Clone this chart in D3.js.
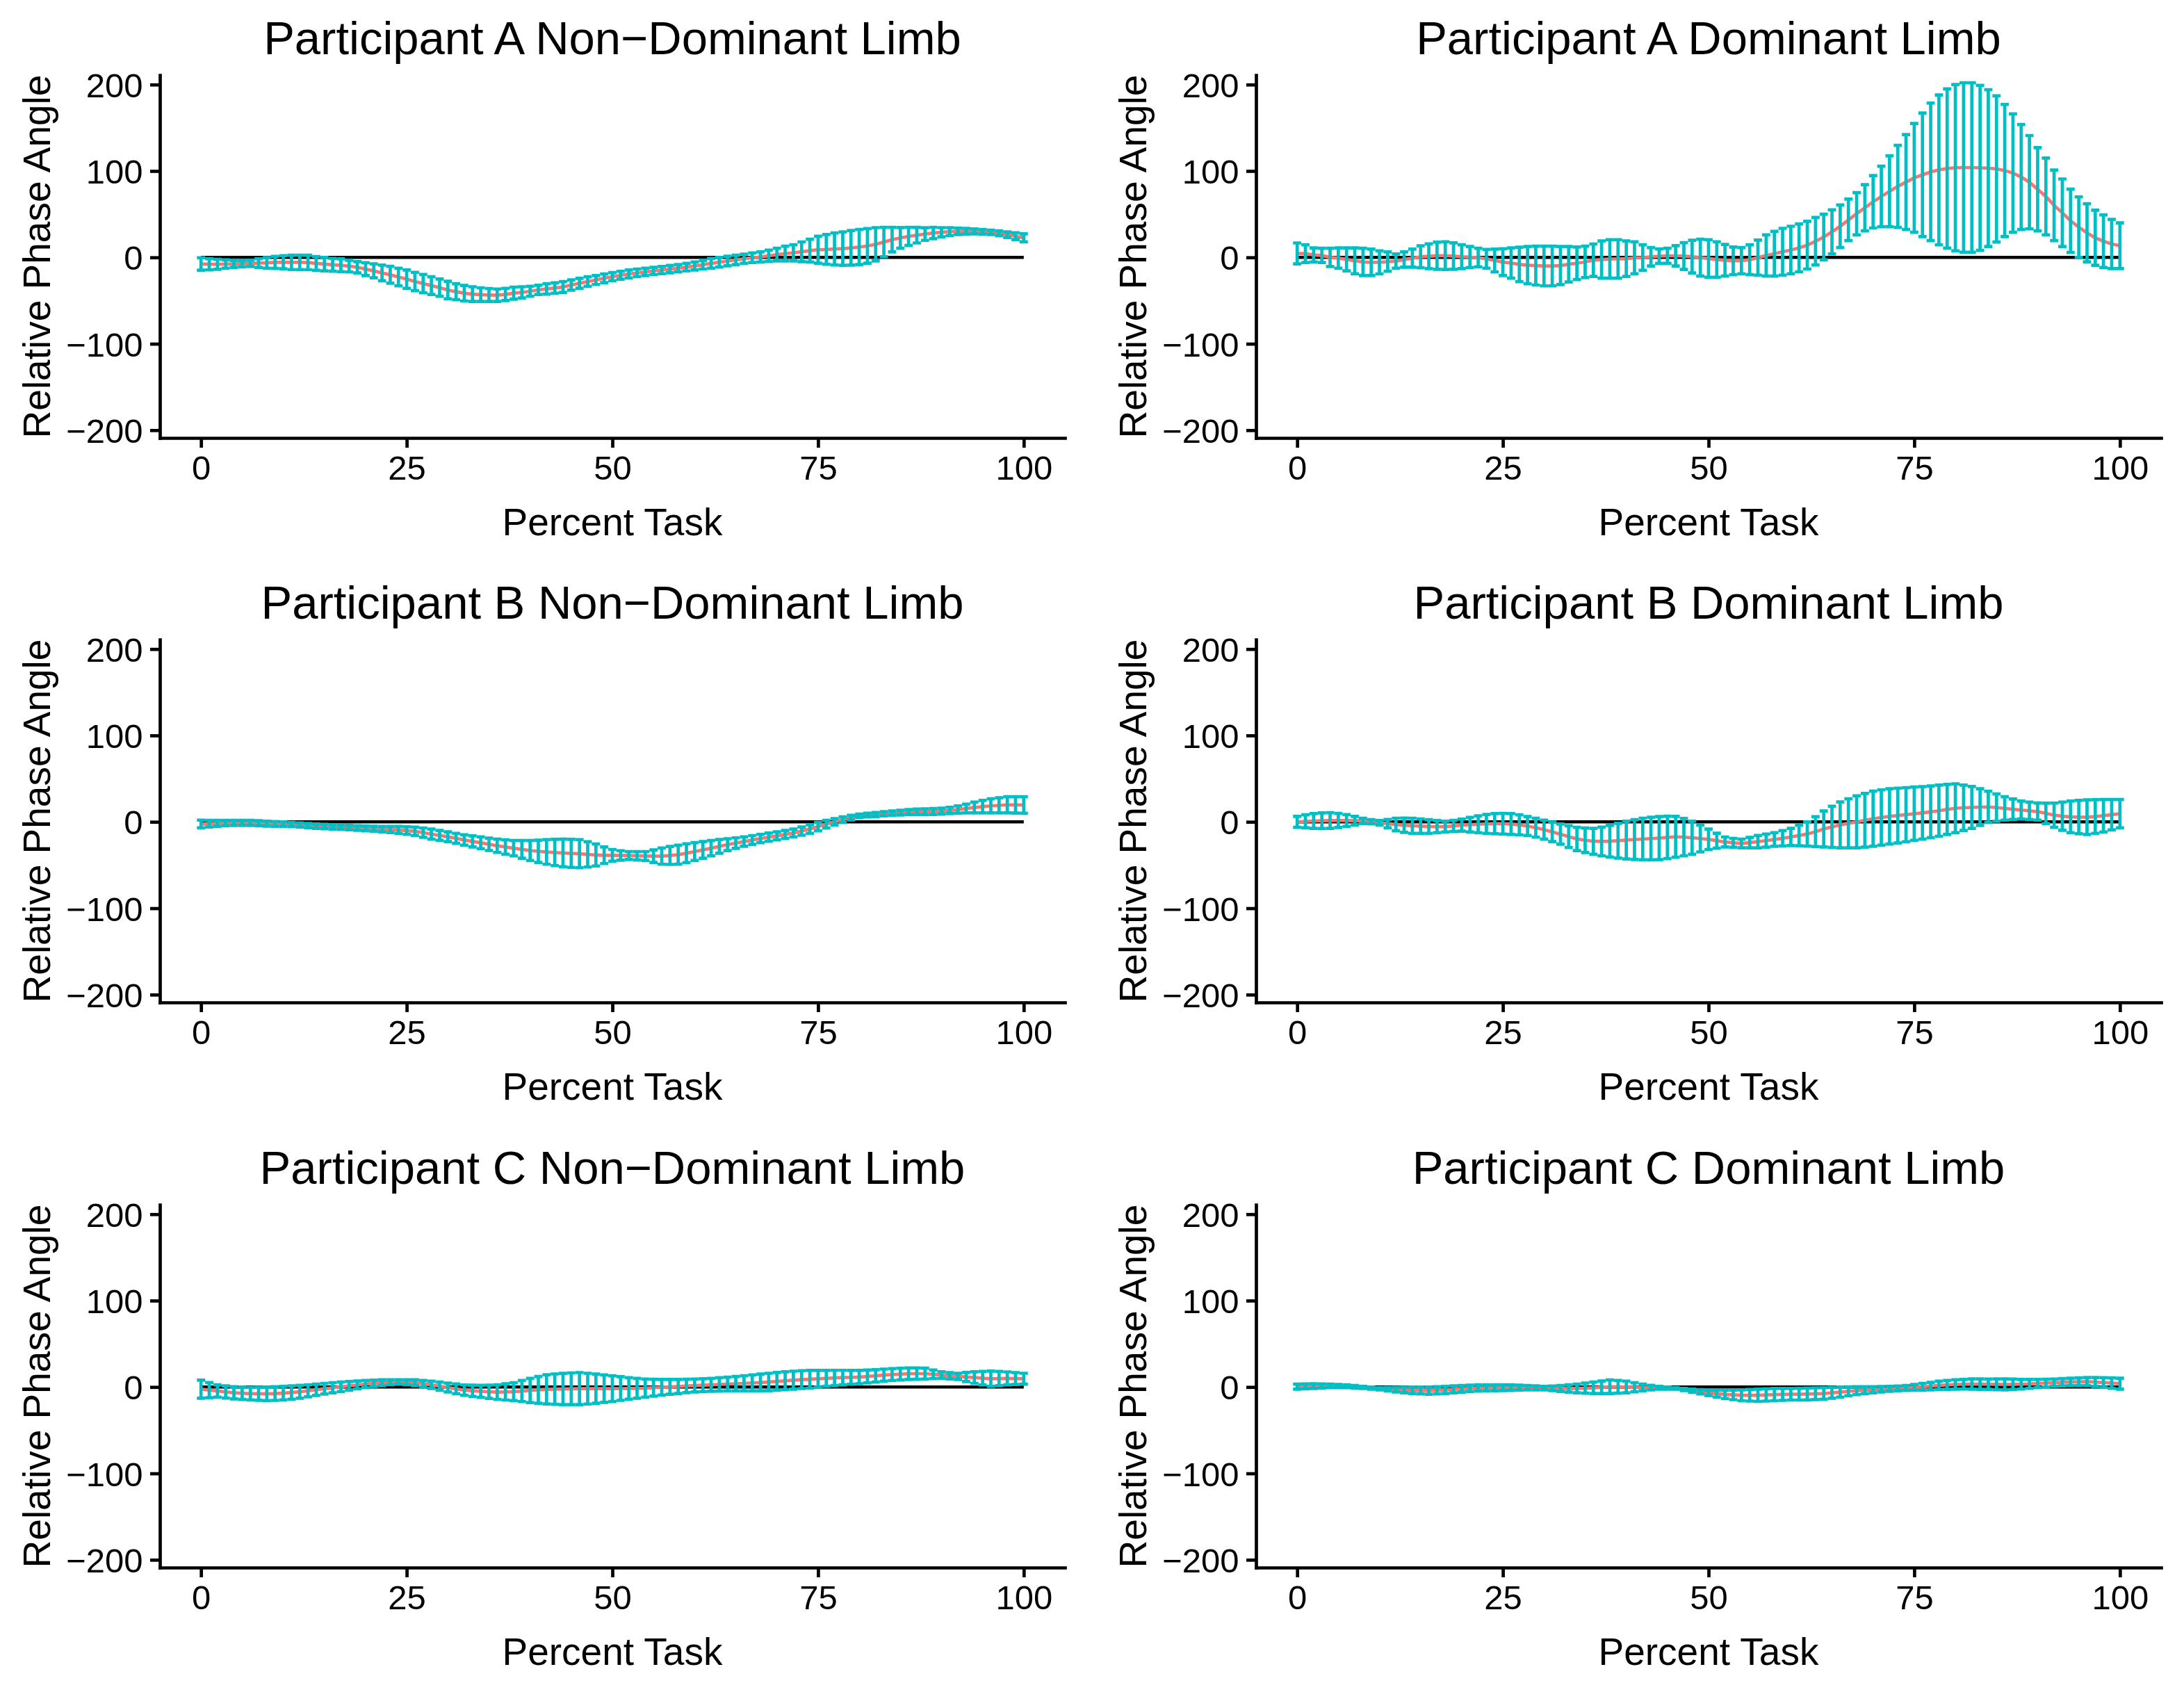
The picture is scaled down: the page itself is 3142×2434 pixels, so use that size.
<!DOCTYPE html>
<html>
<head>
<meta charset="utf-8">
<script src="https://cdn.jsdelivr.net/npm/d3@7"></script>
<style>
  body { margin: 0; background: #fff; }
  svg { display: block; font-family: "Liberation Sans", Arial, sans-serif; }
</style>
</head>
<body>
<div id="chart"></div>
<script>
// percent of task, one value per 1 %
const percentTask = d3.range(0, 101);

const titles = [
  'Participant A Non\u2212Dominant Limb', 'Participant A Dominant Limb',
  'Participant B Non\u2212Dominant Limb', 'Participant B Dominant Limb',
  'Participant C Non\u2212Dominant Limb', 'Participant C Dominant Limb'
];

const xTicks = [0, 25, 50, 75, 100];
const yTicks = [-200, -100, 0, 100, 200];

// mean relative phase angle and its SD (error bar half-length)
const aNdMean = [
  -7.6,-8.0,-8.0,-7.8,-7.6,-7.4,-7.0,-6.6,-6.4,-5.8,
  -5.6,-5.8,-5.8,-5.9,-7.0,-7.8,-8.6,-9.1,-10.1,-11.5,
  -13.6,-15.6,-18.0,-20.1,-22.7,-25.2,-27.9,-30.3,-32.7,-35.0,
  -37.8,-39.7,-41.5,-42.5,-43.1,-43.5,-43.8,-42.9,-41.4,-40.5,
  -39.2,-37.6,-36.5,-35.5,-34.3,-32.0,-30.0,-28.0,-26.2,-24.2,
  -22.3,-20.7,-19.2,-17.9,-16.8,-15.7,-14.7,-13.6,-12.6,-11.3,
  -10.0,-8.5,-6.9,-5.6,-4.2,-2.9,-1.6,-0.4,0.5,1.8,
  3.2,4.4,5.2,6.5,7.8,8.9,9.2,9.8,10.1,11.0,
  11.9,13.3,15.1,17.8,20.5,22.5,24.3,25.7,27.0,28.2,
  29.1,29.8,30.2,30.2,30.1,29.5,28.9,27.9,26.2,24.5,
  22.6];
const aNdSd = [
  7.2,6.5,5.8,4.8,4.0,3.6,3.6,5.0,6.2,7.0,
  7.6,8.3,8.4,8.4,8.0,7.8,7.4,7.4,6.8,6.5,
  7.4,8.0,9.0,9.8,10.2,10.6,10.6,10.6,10.3,10.0,
  10.1,9.3,9.0,8.5,7.9,7.5,7.2,7.1,7.0,6.5,
  5.8,5.3,6.0,6.0,6.3,6.0,5.7,5.5,5.2,5.0,
  4.7,4.6,4.6,4.4,4.3,4.2,4.2,4.2,4.2,4.4,
  4.6,5.0,5.6,5.6,5.5,5.4,5.4,5.6,5.9,6.6,
  7.4,8.5,9.4,11.4,13.2,15.6,17.2,18.5,19.3,20.0,
  20.3,20.0,19.3,17.0,14.2,12.0,10.5,9.0,7.3,6.6,
  5.3,4.6,3.8,3.4,2.9,2.7,2.5,2.8,3.2,3.9,
  4.6];

const aDMean = [
  4.6,4.3,2.8,2.3,0.0,-0.8,-2.3,-4.0,-5.3,-5.7,
  -5.8,-4.9,-4.3,-2.5,-0.9,0.7,1.3,1.9,2.0,1.5,
  0.8,0.4,-0.2,-1.7,-3.6,-5.5,-6.6,-8.2,-9.0,-9.5,
  -10.0,-10.0,-9.5,-8.0,-6.8,-5.2,-3.3,-2.5,-1.8,-1.8,
  -1.5,-0.5,-0.2,0.7,1.4,1.8,1.8,1.5,0.9,-0.3,
  -1.3,-2.5,-3.3,-4.0,-3.8,-2.7,-0.3,2.2,4.2,6.5,
  8.5,11.0,14.1,18.7,23.5,29.5,36.0,43.4,50.5,57.4,
  64.3,70.5,76.5,82.2,87.2,92.0,95.5,99.0,101.3,102.9,
  103.8,104.0,104.0,103.6,103.3,102.4,100.5,97.5,93.0,87.0,
  78.9,70.5,60.2,51.6,42.4,35.0,28.4,22.7,18.7,15.5,
  13.5];
const aDSd = [
  12.1,10.3,8.2,8.3,10.5,11.8,13.3,15.0,15.8,15.3,
  13.3,11.2,8.3,8.8,10.5,12.7,14.3,15.7,16.0,15.3,
  13.8,12.1,10.7,10.9,13.2,15.5,17.5,19.9,21.5,22.5,
  23.0,23.0,22.0,20.5,18.8,18.2,18.8,21.5,22.3,22.3,
  20.5,18.5,14.8,10.7,8.4,8.8,11.8,15.5,18.9,21.3,
  21.8,20.5,18.3,16.0,15.2,17.3,20.3,23.8,25.8,27.1,
  27.5,27.7,27.6,27.4,26.5,25.5,24.7,24.0,24.5,26.7,
  30.3,35.0,41.0,47.5,54.9,63.0,71.5,79.6,86.7,92.1,
  96.2,98.0,98.0,95.4,90.8,84.6,76.5,68.5,60.7,54.0,
  48.2,44.5,40.8,39.1,36.6,35.0,33.6,31.9,30.4,28.5,
  26.5];

const bNdMean = [
  -2.5,-2.1,-1.7,-1.4,-1.2,-1.2,-1.2,-1.6,-2.1,-2.4,
  -2.7,-3.1,-3.6,-4.3,-5.0,-5.4,-5.8,-6.2,-6.6,-7.1,
  -7.7,-8.1,-8.5,-8.9,-9.4,-10.1,-11.0,-12.5,-14.2,-15.7,
  -17.2,-19.1,-21.0,-22.6,-24.2,-26.0,-27.7,-29.1,-30.5,-31.9,
  -33.2,-34.1,-34.9,-35.5,-36.0,-36.5,-36.9,-37.7,-38.4,-38.7,
  -38.8,-38.9,-39.0,-39.3,-39.6,-39.7,-39.7,-38.9,-38.0,-36.3,
  -34.4,-32.5,-30.5,-28.4,-26.4,-24.6,-22.8,-21.0,-19.3,-17.7,
  -16.2,-14.6,-12.9,-10.7,-8.3,-5.5,-2.7,0.0,2.5,4.9,
  7.0,7.8,8.5,9.3,10.0,10.6,11.2,11.5,11.7,12.0,
  12.4,13.2,14.2,15.4,16.6,17.6,18.5,19.1,19.7,19.6,
  19.5];
const bNdSd = [
  4.5,3.9,3.4,3.1,2.9,2.9,2.9,2.9,2.9,2.8,
  2.7,2.5,2.4,2.4,2.5,2.5,2.5,2.5,2.5,2.6,
  2.7,2.9,3.1,3.5,4.0,4.4,4.8,5.4,5.9,5.8,
  5.6,5.8,6.0,6.4,6.8,7.2,7.7,8.3,8.9,10.2,
  11.6,12.9,14.2,15.2,16.0,16.2,16.2,14.6,12.7,9.6,
  6.8,5.5,4.6,4.8,5.2,7.2,9.4,10.4,11.0,10.8,
  10.4,9.7,8.9,7.9,6.9,6.1,5.4,5.1,4.8,4.7,
  4.6,4.6,4.6,4.8,5.0,4.8,4.4,3.8,3.3,2.6,
  2.0,2.1,2.3,2.4,2.5,2.7,2.9,3.2,3.4,3.4,
  3.4,3.7,4.2,5.1,6.2,7.2,8.1,8.8,9.3,9.5,
  9.5];

const bDMean = [
  0.0,0.6,1.0,1.3,1.5,1.6,1.5,1.3,1.1,0.1,
  -1.0,-2.1,-3.1,-3.9,-4.6,-5.0,-5.4,-5.5,-5.5,-4.7,
  -3.8,-3.3,-2.8,-2.4,-2.1,-2.2,-2.5,-3.5,-4.8,-6.8,
  -9.0,-11.6,-14.2,-17.1,-19.8,-21.3,-22.5,-22.7,-22.5,-21.8,
  -21.1,-20.5,-19.9,-19.3,-18.8,-18.0,-17.3,-17.7,-18.4,-19.3,
  -20.2,-21.8,-23.3,-24.3,-25.0,-24.0,-22.9,-21.7,-20.4,-19.0,
  -17.5,-15.8,-14.0,-11.4,-8.3,-5.8,-3.5,-1.7,0.0,1.8,
  3.6,5.0,6.3,7.3,8.3,9.4,10.4,11.6,12.9,14.4,
  15.7,16.3,16.7,17.1,17.3,16.5,15.5,14.6,13.7,12.8,
  11.9,9.8,7.7,6.6,5.8,5.5,5.4,6.2,7.1,8.3,
  9.4];
const bDSd = [
  6.3,7.6,8.6,9.0,9.0,8.2,6.9,5.0,3.1,2.5,
  2.5,4.8,7.3,8.2,8.8,8.4,7.9,7.0,6.3,6.5,
  7.0,8.4,9.8,10.9,11.7,12.0,12.1,11.6,11.0,10.9,
  11.0,11.3,11.7,12.5,13.5,14.2,15.0,16.6,18.3,20.1,
  21.9,23.1,24.1,24.7,25.0,24.5,23.6,21.6,19.2,15.5,
  11.9,8.6,5.8,5.2,5.0,6.0,7.1,7.5,7.9,8.9,
  10.0,11.9,14.0,17.3,20.8,23.8,26.5,28.4,30.0,31.1,
  31.9,32.0,32.0,31.7,31.3,30.9,30.4,30.0,29.6,29.0,
  28.2,26.3,24.2,21.2,18.1,15.7,13.5,11.8,10.4,10.0,
  9.9,11.8,14.0,16.3,18.3,19.3,20.0,19.5,18.8,17.6,
  16.4];

const cNdMean = [
  -2.5,-3.6,-4.6,-5.7,-6.7,-7.2,-7.7,-7.8,-7.9,-7.6,
  -7.1,-6.4,-5.5,-4.4,-3.2,-2.0,-0.9,0.2,1.3,2.4,
  3.4,4.3,5.0,5.5,5.8,5.5,5.0,3.8,2.5,1.0,
  -0.6,-2.1,-3.6,-4.4,-5.0,-5.5,-5.9,-5.7,-5.4,-4.7,
  -4.0,-3.3,-2.7,-2.5,-2.3,-2.1,-1.9,-1.9,-1.9,-1.9,
  -1.9,-1.8,-1.7,-1.5,-1.3,-0.8,-0.3,0.2,0.6,1.2,
  1.7,2.1,2.5,3.0,3.4,3.8,4.2,4.7,5.2,5.8,
  6.5,7.2,7.9,8.5,9.0,9.5,10.0,10.5,10.9,11.2,
  11.5,12.2,12.9,13.7,14.4,14.9,15.4,15.5,15.5,14.7,
  13.8,13.0,12.3,11.6,10.9,10.2,9.6,9.8,10.0,9.8,
  9.6];
const cNdSd = [
  10.5,8.7,7.1,7.0,7.1,7.2,7.3,7.6,7.9,7.9,
  7.9,7.7,7.5,7.0,6.5,6.2,5.9,5.5,5.0,4.6,
  4.2,3.7,3.3,2.9,2.5,2.8,3.3,3.7,4.2,4.7,
  5.2,5.6,6.0,6.5,7.0,7.7,8.4,9.4,10.4,12.2,
  14.0,15.5,16.9,17.6,18.1,18.4,18.6,17.8,16.9,15.9,
  14.9,13.7,12.5,11.5,10.5,9.7,9.0,8.5,8.1,7.8,
  7.5,7.5,7.5,7.7,8.0,8.4,8.8,9.3,9.8,10.1,
  10.3,10.4,10.4,10.3,10.2,9.7,9.2,8.8,8.4,8.0,
  7.7,7.4,7.1,7.0,6.9,6.8,6.7,6.5,6.3,5.0,
  3.8,3.6,3.6,5.2,6.7,7.8,8.8,8.2,7.5,6.9,
  6.3];

const cDMean = [
  0.4,0.7,1.0,1.2,1.3,1.1,0.9,0.2,-0.5,-1.3,
  -2.1,-2.6,-3.1,-3.5,-3.8,-4.0,-4.2,-3.8,-3.4,-2.7,
  -2.1,-1.6,-1.1,-1.0,-0.9,-0.8,-0.7,-0.7,-0.8,-1.0,
  -1.3,-1.5,-1.7,-1.7,-1.7,-1.3,-0.9,-0.3,0.3,0.2,
  0.0,-0.3,-0.5,-0.7,-0.9,-1.3,-1.7,-2.9,-4.2,-5.6,
  -6.9,-7.8,-8.6,-9.1,-9.6,-9.6,-9.6,-9.2,-8.8,-8.6,
  -8.4,-8.3,-8.1,-7.8,-7.5,-6.7,-5.9,-5.0,-4.2,-3.7,
  -3.2,-2.6,-2.1,-1.6,-1.1,-0.4,0.2,1.0,1.9,2.4,
  2.9,3.2,3.4,3.3,3.2,3.1,3.0,3.1,3.2,3.6,
  4.0,4.5,5.0,5.5,5.9,6.1,6.3,5.8,5.2,4.5,
  3.8];
const cDSd = [
  2.9,2.9,2.8,2.4,2.1,1.9,1.7,1.5,1.3,1.3,
  1.3,2.0,2.7,3.3,3.8,4.0,4.2,4.2,4.2,4.0,
  3.8,3.7,3.6,3.5,3.4,3.3,3.2,2.8,2.5,2.3,
  2.1,2.7,3.4,4.2,5.0,5.9,6.7,7.3,7.8,7.3,
  6.7,5.2,3.8,2.7,1.7,1.3,0.9,1.3,1.7,2.4,
  3.1,4.0,4.8,5.6,6.3,6.7,7.1,7.1,7.1,6.9,
  6.7,6.8,6.9,6.8,6.7,6.3,5.9,5.2,4.6,4.1,
  3.6,3.2,2.9,2.8,2.8,3.4,4.0,4.4,4.8,5.1,
  5.4,5.6,5.9,6.0,6.0,6.2,6.3,6.0,5.6,5.2,
  4.8,4.5,4.2,4.2,4.2,4.4,4.6,5.1,5.6,6.0,
  6.3];

const panels = [
  { title: titles[0], mean: aNdMean, sd: aNdSd, col: 0, row: 0 },
  { title: titles[1], mean: aDMean, sd: aDSd, col: 1, row: 0 },
  { title: titles[2], mean: bNdMean, sd: bNdSd, col: 0, row: 1 },
  { title: titles[3], mean: bDMean, sd: bDSd, col: 1, row: 1 },
  { title: titles[4], mean: cNdMean, sd: cNdSd, col: 0, row: 2 },
  { title: titles[5], mean: cDMean, sd: cDSd, col: 1, row: 2 }
];

const width = 3142;
const height = 2434;
const colOffset = [0, 1577];
const rowOffset = [0, 812, 1625];
const panelLeft = 230;
const panelWidth = 1302;
const panelTop = 108;
const panelHeight = 522;
const lw = 4.7;
const barColor = '#00BFC4';
const meanColor = '#F8766D';

const svg = d3.select('#chart').append('svg')
  .attr('width', width)
  .attr('height', height);

svg.append('rect').attr('width', width).attr('height', height).attr('fill', '#fff');

panels.forEach(p => {
  const ox = colOffset[p.col];
  const oy = rowOffset[p.row];
  const left = ox + panelLeft;
  const right = left + panelWidth;
  const top = oy + panelTop;
  const bottom = top + panelHeight;

  const x = d3.scaleLinear().domain([-5, 105]).range([left, right]);
  const y = d3.scaleLinear().domain([-209, 211]).range([bottom, top]);

  const g = svg.append('g');

  // zero reference line
  g.append('path')
    .datum(percentTask)
    .attr('fill', 'none')
    .attr('stroke', '#000')
    .attr('stroke-width', lw)
    .attr('d', d3.line().x(d => x(d)).y(() => y(0)));

  // mean curve
  g.append('path')
    .datum(percentTask)
    .attr('fill', 'none')
    .attr('stroke', meanColor)
    .attr('stroke-width', lw)
    .attr('d', d3.line().x(d => x(d)).y(d => y(p.mean[d])));

  // error bars: mean +/- sd
  const half = 0.5;
  g.append('g').selectAll('path')
    .data(percentTask)
    .enter()
    .append('path')
    .attr('fill', 'none')
    .attr('stroke', barColor)
    .attr('stroke-width', lw)
    .attr('stroke-linecap', 'butt')
    .attr('d', d => {
      const lo = y(p.mean[d] - p.sd[d]);
      const hi = y(p.mean[d] + p.sd[d]);
      const xa = x(d - half);
      const xb = x(d + half);
      const xm = x(d);
      return `M${xa},${hi}H${xb}M${xm},${hi}V${lo}M${xa},${lo}H${xb}`;
    });

  // axes
  const xAxis = g.append('g')
    .attr('transform', `translate(0,${bottom})`)
    .call(d3.axisBottom(x).tickValues(xTicks).tickSize(14).tickPadding(11).tickSizeOuter(0));
  const yAxis = g.append('g')
    .attr('transform', `translate(${left},0)`)
    .call(d3.axisLeft(y).tickValues(yTicks).tickSize(14).tickPadding(10.5).tickSizeOuter(0));

  [xAxis, yAxis].forEach(a => {
    a.select('.domain').attr('stroke', '#000').attr('stroke-width', lw).attr('stroke-linecap', 'square');
    a.selectAll('.tick line').attr('stroke', '#000').attr('stroke-width', lw);
    a.selectAll('.tick text').attr('fill', '#000').style('font-size', '49px')
      .style('font-family', '"Liberation Sans", Arial, sans-serif');
  });
  yAxis.selectAll('.tick text').attr('dy', '0.36em');

  // titles
  g.append('text')
    .attr('x', (left + right) / 2)
    .attr('y', oy + 78)
    .attr('text-anchor', 'middle')
    .style('font-size', '67px')
    .text(p.title);

  g.append('text')
    .attr('x', (left + right) / 2)
    .attr('y', oy + 770)
    .attr('text-anchor', 'middle')
    .style('font-size', '55px')
    .text('Percent Task');

  g.append('text')
    .attr('transform', `translate(${ox + 72},${(top + bottom) / 2}) rotate(-90)`)
    .attr('text-anchor', 'middle')
    .style('font-size', '55px')
    .text('Relative Phase Angle');
});
</script>
</body>
</html>
